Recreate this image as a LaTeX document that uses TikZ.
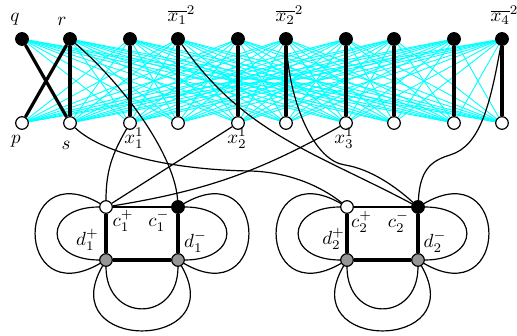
\documentclass[tikz,border=0pt]{standalone}
\pgfdeclarelayer{edges}
\pgfsetlayers{edges,main}
\definecolor{cyanline}{RGB}{0,255,255}
\definecolor{grayfill}{RGB}{150,150,150}
\newcommand{\biglab}[1]{\scalebox{1.9}{$#1$}}
\begin{document}
\begin{tikzpicture}[x=1pt,y=1pt,
  lbl/.style={inner sep=0pt},
  topv/.style={circle,fill=black,draw=black,line width=1.2pt,minimum size=12.6pt,inner sep=0pt},
  botv/.style={circle,fill=white,draw=black,line width=1.2pt,minimum size=12.6pt,inner sep=0pt},
  grayv/.style={circle,fill=grayfill,draw=black,line width=1.2pt,minimum size=12.6pt,inner sep=0pt},
  cyanedge/.style={cyanline,line width=0.9pt},
  thickedge/.style={black,line width=3.2pt},
  thinedge/.style={black,line width=1.2pt},
]
\useasboundingbox (0,0) rectangle (517,336);

% top and bottom rows
\foreach \i/\x in {1/22,2/70,3/130,4/178,5/238,6/286,7/346,8/394,9/454,10/502}{
  \node[topv] (t\i) at (\x,297) {};
  \node[botv] (b\i) at (\x,213) {};
}

% gadgets
\node[botv]  (cp1) at (106,129) {};
\node[topv]  (cm1) at (178,129) {};
\node[grayv] (dp1) at (106,76) {};
\node[grayv] (dm1) at (178,76) {};
\node[botv]  (cp2) at (347,129) {};
\node[topv]  (cm2) at (418,129) {};
\node[grayv] (dp2) at (347,76) {};
\node[grayv] (dm2) at (418,76) {};

\begin{pgfonlayer}{edges}
  \foreach \i in {1,...,10}{
    \foreach \j in {1,...,10}{
      \ifnum\i=\j\else\draw[cyanedge] (t\i) -- (b\j);\fi
    }
  }
  \draw[thickedge] (t1) -- (b2);
  \draw[thickedge] (t2) -- (b1);
  \foreach \i in {2,...,10}{\draw[thickedge] (t\i) -- (b\i);}
  \foreach \g in {1,2}{
    \draw[thickedge] (cp\g) -- (dp\g) -- (dm\g) -- (cm\g);
    \draw[thinedge] (cp\g) -- (cm\g);
    \draw[thinedge] (cp\g) to[out=180,in=180,distance=56pt] (dp\g);
    \draw[thinedge] (cp\g) to[out=150,in=210,distance=100pt] (dp\g);
    \draw[thinedge] (cm\g) to[out=0,in=0,distance=56pt] (dm\g);
    \draw[thinedge] (cm\g) to[out=30,in=-30,distance=100pt] (dm\g);
    \draw[thinedge] (dp\g) to[out=270,in=270,distance=56pt] (dm\g);
    \draw[thinedge] (dp\g) to[out=240,in=300,distance=100pt] (dm\g);
  }
  % connections
  \draw[thinedge] (b2) .. controls (105,180) and (180,166) .. (250,165)
                       .. controls (290,164) and (322,149) .. (cp2);
  \draw[thinedge] (t2) .. controls (125,250) and (175,180) .. (cm1);
  \draw[thinedge] (b3) to[out=240,in=90] (cp1);
  \draw[thinedge] (b5) -- (cp1);
  \draw[thinedge] (b7) to[bend left=10] (cp1);
  \draw[thinedge] (t4) to[out=-55,in=152] (cm2);
  \draw[thinedge] (t6) .. controls (290,230) and (315,175) .. (345,171)
                       .. controls (370,167) and (395,150) .. (cm2);
  \draw[thinedge] (t10) .. controls (490,230) and (480,190) .. (450,181)
                        .. controls (430,175) and (420,165) .. (cm2);
\end{pgfonlayer}

% labels
\node[lbl] (lq) at (15,317) {\biglab{q}};
\node[lbl] (lr) at (62,315) {\biglab{r}};
\node[lbl] (lx1) at (181.5,320.5) {\biglab{\overline{x_1}^2}};
\node[lbl] (lx2) at (289.5,320.5) {\biglab{\overline{x_2}^2}};
\node[lbl] (lx4) at (504.5,320.5) {\biglab{\overline{x_4}^2}};
\node[lbl] (lp) at (16,194.5) {\biglab{p}};
\node[lbl] (ls) at (66,191) {\biglab{s}};
\node[lbl] (l11) at (134,197.5) {\biglab{x_1^1}};
\node[lbl] (l21) at (237,197.5) {\biglab{x_2^1}};
\node[lbl] (l31) at (344,197.5) {\biglab{x_3^1}};
\node[lbl] (lc1p) at (123,115) {\biglab{c_1^+}};
\node[lbl] (lc1m) at (159,115) {\biglab{c_1^-}};
\node[lbl] (ld1p) at (87.5,96) {\biglab{d_1^+}};
\node[lbl] (ld1m) at (195.5,94.5) {\biglab{d_1^-}};
\node[lbl] (lc2p) at (361.5,114) {\biglab{c_2^+}};
\node[lbl] (lc2m) at (398.5,114) {\biglab{c_2^-}};
\node[lbl] (ld2p) at (333.5,97) {\biglab{d_2^+}};
\node[lbl] (ld2m) at (435,94.5) {\biglab{d_2^-}};
\end{tikzpicture}
\end{document}
